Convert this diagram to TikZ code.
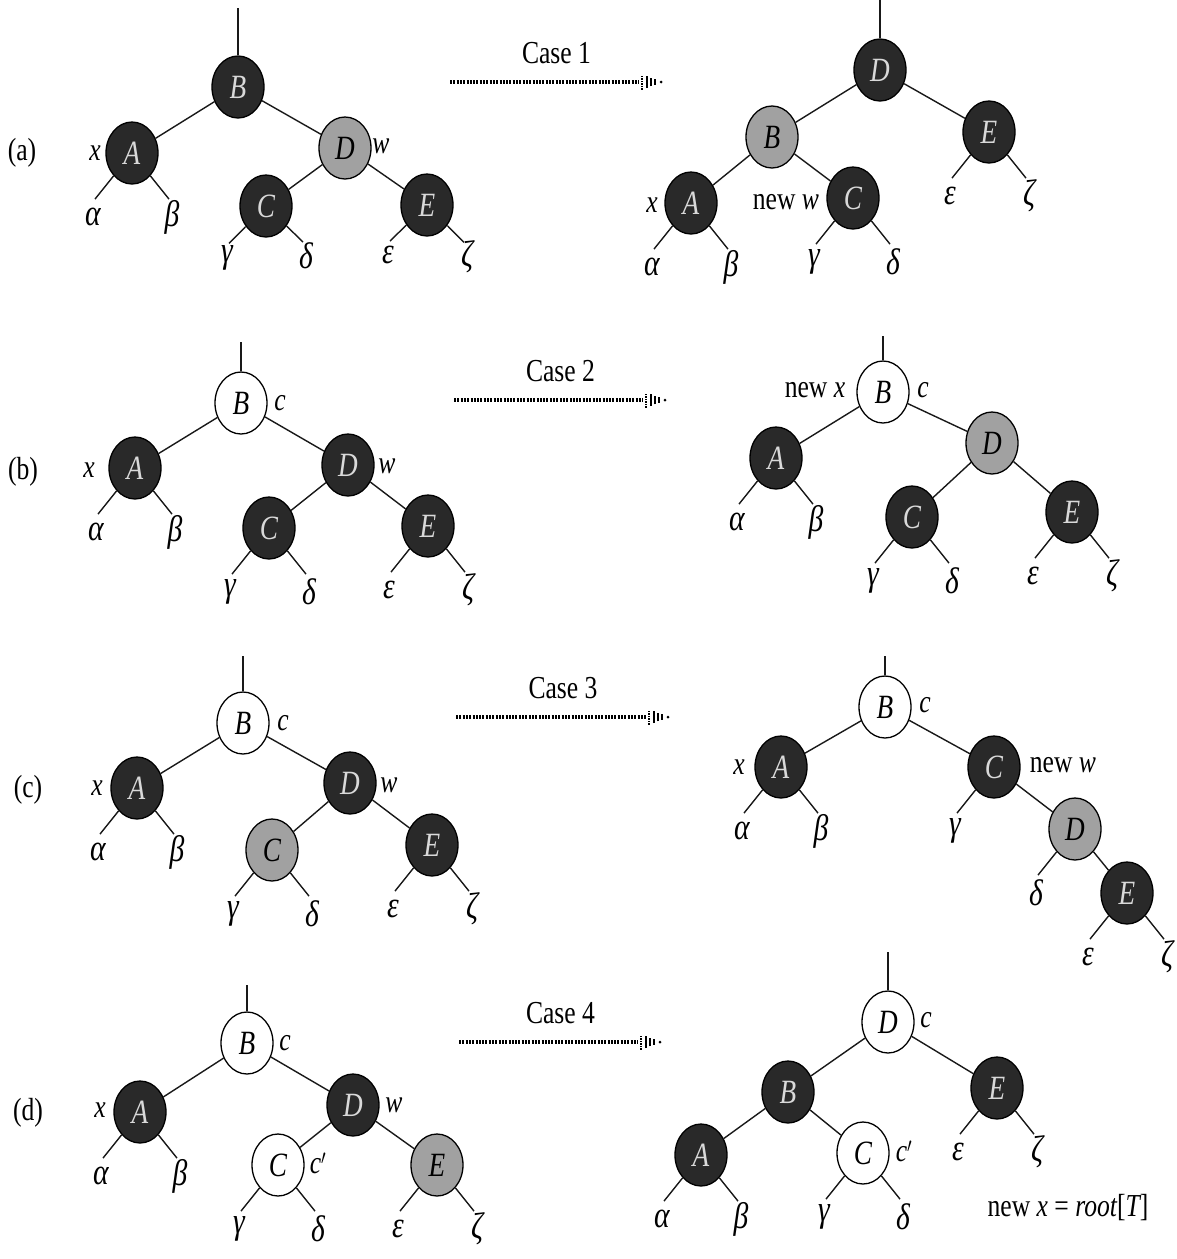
\documentclass[tikz,border=0pt]{standalone}
\usepackage{graphicx}
\usepackage{fontspec}
\setmainfont{Liberation Serif}
\usetikzlibrary{shapes.geometric,calc}

% narrow type, as in the printed figure
\newcommand\nrw[1]{\scalebox{0.8}[1]{#1}}

% leaf stubs hanging off a node; the optional value is the drop of the label below the node
\newcommand\lleaf[3][64]{%
  \coordinate (#2L) at ($(#2)+(-37,#1*0.72)$);
  \draw[edge] (#2) -- (#2L);
  \node[grk] (#2Lt) at ($(#2)+(-39,#1)$) {\nrw{#3}};}
\newcommand\rleaf[3][64]{%
  \coordinate (#2R) at ($(#2)+(37,#1*0.72)$);
  \draw[edge] (#2) -- (#2R);
  \node[grk] (#2Rt) at ($(#2)+(40,#1)$) {\nrw{#3}};}

% dotted transformation arrow with its caption
\newcommand\casearrow[5]{%
  \coordinate (#1s) at (#2,#4);
  \coordinate (#1e) at (#3,#4);
  \draw[dotline] (#1s) -- ([xshift=-24pt]#1e);
  \draw[line width=1.8pt, dash pattern=on 1.5pt off 1pt] ([xshift=-21pt,yshift=-7.5pt]#1e) -- ([xshift=-21pt,yshift=7.5pt]#1e);
  \foreach \dx/\h in {16/6, 12/4.4, 8/2.8} {
    \draw[line width=1.5pt] ([xshift=-\dx pt,yshift=-\h pt]#1e) -- ([xshift=-\dx pt,yshift=\h pt]#1e);}
  \fill ([xshift=-2pt]#1e) circle (1.5pt);
  \node[casetxt] (#1t) at ($(#1s)!0.5!(#1e)+(0,-29)$) {\nrw{#5}};}

\begin{document}
\begin{tikzpicture}[x=1pt,y=-1pt,
  edge/.style={line width=1.4pt, draw=black!90},
  nd/.style={ellipse, draw=black, line width=1.3pt, minimum width=52pt,
    minimum height=62pt, inner sep=0pt,
    font=\fontsize{34}{36}\selectfont\itshape},
  blk/.style={nd, fill=black!84, text=white!85!black},
  gry/.style={nd, fill=black!37, text=black},
  wht/.style={nd, fill=white, text=black},
  lbl/.style={inner sep=0pt, font=\fontsize{32}{34}\selectfont\itshape},
  grk/.style={inner sep=0pt, font=\fontsize{37}{39}\selectfont\itshape},
  tag/.style={inner sep=0pt, font=\fontsize{32}{34}\selectfont},
  casetxt/.style={inner sep=0pt, font=\fontsize{32}{34}\selectfont},
  dotline/.style={line width=3.4pt, dash pattern=on 2pt off 1.3pt, black}]

\fill[white] (0,0) rectangle (1176,1259);
\useasboundingbox (0,0) rectangle (1176,1259);

% ---------------- (a) case 1 ----------------
\node[tag] (atag) at (22,153) {\nrw{(a)}};
\node[blk] (aB) at (238,87) {\nrw{B}};
\node[blk] (aA) at (132,153) {\nrw{A}};
\node[gry] (aD) at (345,148) {\nrw{D}};
\node[blk] (aC) at (266,206) {\nrw{C}};
\node[blk] (aE) at (427,205) {\nrw{E}};
\coordinate (aT) at (238,8);
\draw[edge] (aT) -- (aB);
\draw[edge] (aB) -- (aA);
\draw[edge] (aB) -- (aD);
\draw[edge] (aD) -- (aC);
\draw[edge] (aD) -- (aE);
\lleaf{aA}{α}\rleaf{aA}{β}
\lleaf[52]{aC}{γ}\rleaf[50]{aC}{δ}
\lleaf[50]{aE}{ε}\rleaf[52]{aE}{ζ}
\node[lbl] (ax) at (95,153) {\nrw{x}};
\node[lbl] (aw) at (381,146) {\nrw{w}};

\casearrow{ca}{450}{663}{82}{Case 1}

\node[blk] (pD) at (880,70) {\nrw{D}};
\node[gry] (pB) at (772,137) {\nrw{B}};
\node[blk] (pE) at (989,132) {\nrw{E}};
\node[blk] (pA) at (691,203) {\nrw{A}};
\node[blk] (pC) at (853,198) {\nrw{C}};
\coordinate (pT) at (880,0);
\draw[edge] (pT) -- (pD);
\draw[edge] (pD) -- (pB);
\draw[edge] (pD) -- (pE);
\draw[edge] (pB) -- (pA);
\draw[edge] (pB) -- (pC);
\lleaf{pA}{α}\rleaf{pA}{β}
\lleaf{pC}{γ}\rleaf{pC}{δ}
\lleaf{pE}{ε}\rleaf{pE}{ζ}
\node[lbl] (px) at (652,205) {\nrw{x}};
\node[lbl] (pw) at (786,202) {\nrw{\upshape new \itshape w}};

% ---------------- (b) case 2 ----------------
\node[tag] (btag) at (23,472) {\nrw{(b)}};
\node[wht] (bB) at (241,403) {\nrw{B}};
\node[blk] (bA) at (135,468) {\nrw{A}};
\node[blk] (bD) at (348,465) {\nrw{D}};
\node[blk] (bC) at (269,528) {\nrw{C}};
\node[blk] (bE) at (428,526) {\nrw{E}};
\coordinate (bT) at (241,342);
\draw[edge] (bT) -- (bB);
\draw[edge] (bB) -- (bA);
\draw[edge] (bB) -- (bD);
\draw[edge] (bD) -- (bC);
\draw[edge] (bD) -- (bE);
\lleaf{bA}{α}\rleaf{bA}{β}
\lleaf{bC}{γ}\rleaf{bC}{δ}
\lleaf{bE}{ε}\rleaf{bE}{ζ}
\node[lbl] (bx) at (89,470) {\nrw{x}};
\node[lbl] (bw) at (387,466) {\nrw{w}};
\node[lbl] (bc) at (280,403) {\nrw{c}};

\casearrow{cb}{454}{667}{400}{Case 2}

\node[wht] (qB) at (883,392) {\nrw{B}};
\node[blk] (qA) at (776,458) {\nrw{A}};
\node[gry] (qD) at (992,443) {\nrw{D}};
\node[blk] (qC) at (912,517) {\nrw{C}};
\node[blk] (qE) at (1072,512) {\nrw{E}};
\coordinate (qT) at (883,336);
\draw[edge] (qT) -- (qB);
\draw[edge] (qB) -- (qA);
\draw[edge] (qB) -- (qD);
\draw[edge] (qD) -- (qC);
\draw[edge] (qD) -- (qE);
\lleaf{qA}{α}\rleaf{qA}{β}
\lleaf{qC}{γ}\rleaf{qC}{δ}
\lleaf{qE}{ε}\rleaf{qE}{ζ}
\node[lbl] (qx) at (815,390) {\nrw{\upshape new \itshape x}};
\node[lbl] (qc) at (923,390) {\nrw{c}};

% ---------------- (c) case 3 ----------------
\node[tag] (ctag) at (28,790) {\nrw{(c)}};
\node[wht] (cB) at (243,723) {\nrw{B}};
\node[blk] (cA) at (137,788) {\nrw{A}};
\node[blk] (cD) at (350,783) {\nrw{D}};
\node[gry] (cC) at (272,850) {\nrw{C}};
\node[blk] (cE) at (432,845) {\nrw{E}};
\coordinate (cT) at (243,656);
\draw[edge] (cT) -- (cB);
\draw[edge] (cB) -- (cA);
\draw[edge] (cB) -- (cD);
\draw[edge] (cD) -- (cC);
\draw[edge] (cD) -- (cE);
\lleaf{cA}{α}\rleaf{cA}{β}
\lleaf{cC}{γ}\rleaf{cC}{δ}
\lleaf{cE}{ε}\rleaf{cE}{ζ}
\node[lbl] (cx) at (97,788) {\nrw{x}};
\node[lbl] (cw) at (389,785) {\nrw{w}};
\node[lbl] (cc) at (283,723) {\nrw{c}};

\casearrow{cc3}{456}{670}{717}{Case 3}

\node[wht] (rB) at (885,707) {\nrw{B}};
\node[blk] (rA) at (781,767) {\nrw{A}};
\node[blk] (rC) at (994,767) {\nrw{C}};
\node[gry] (rD) at (1075,829) {\nrw{D}};
\node[blk] (rE) at (1127,893) {\nrw{E}};
\coordinate (rT) at (885,656);
\draw[edge] (rT) -- (rB);
\draw[edge] (rB) -- (rA);
\draw[edge] (rB) -- (rC);
\draw[edge] (rC) -- (rD);
\draw[edge] (rD) -- (rE);
\lleaf{rA}{α}\rleaf{rA}{β}
\lleaf{rC}{γ}
\lleaf{rD}{δ}
\lleaf{rE}{ε}\rleaf{rE}{ζ}
\node[lbl] (rx) at (739,767) {\nrw{x}};
\node[lbl] (rc) at (925,705) {\nrw{c}};
\node[lbl] (rw) at (1063,765) {\nrw{\upshape new \itshape w}};

% ---------------- (d) case 4 ----------------
\node[tag] (dtag) at (28,1113) {\nrw{(d)}};
\node[wht] (dB) at (247,1043) {\nrw{B}};
\node[blk] (dA) at (140,1112) {\nrw{A}};
\node[blk] (dD) at (353,1105) {\nrw{D}};
\node[wht] (dC) at (278,1165) {\nrw{C}};
\node[gry] (dE) at (437,1165) {\nrw{E}};
\coordinate (dT) at (247,985);
\draw[edge] (dT) -- (dB);
\draw[edge] (dB) -- (dA);
\draw[edge] (dB) -- (dD);
\draw[edge] (dD) -- (dC);
\draw[edge] (dD) -- (dE);
\lleaf{dA}{α}\rleaf{dA}{β}
\lleaf{dC}{γ}\rleaf{dC}{δ}
\lleaf{dE}{ε}\rleaf{dE}{ζ}
\node[lbl] (dx) at (100,1110) {\nrw{x}};
\node[lbl] (dw) at (394,1105) {\nrw{w}};
\node[lbl] (dc) at (285,1043) {\nrw{c}};
\node[lbl] (dc2) at (318,1163) {\nrw{c$'$}};

\casearrow{cd}{459}{662}{1042}{Case 4}

\node[wht] (sD) at (888,1022) {\nrw{D}};
\node[blk] (sB) at (788,1092) {\nrw{B}};
\node[blk] (sE) at (997,1088) {\nrw{E}};
\node[blk] (sA) at (701,1155) {\nrw{A}};
\node[wht] (sC) at (863,1153) {\nrw{C}};
\coordinate (sT) at (888,952);
\draw[edge] (sT) -- (sD);
\draw[edge] (sD) -- (sB);
\draw[edge] (sD) -- (sE);
\draw[edge] (sB) -- (sA);
\draw[edge] (sB) -- (sC);
\lleaf{sA}{α}\rleaf{sA}{β}
\lleaf{sC}{γ}\rleaf{sC}{δ}
\lleaf{sE}{ε}\rleaf{sE}{ζ}
\node[lbl] (sc) at (926,1020) {\nrw{c}};
\node[lbl] (sc2) at (904,1151) {\nrw{c$'$}};
\node[lbl] (sroot) at (1068,1208) {\nrw{\upshape new \itshape x \upshape = \itshape root\upshape [\itshape T\upshape ]}};

\end{tikzpicture}
\end{document}
